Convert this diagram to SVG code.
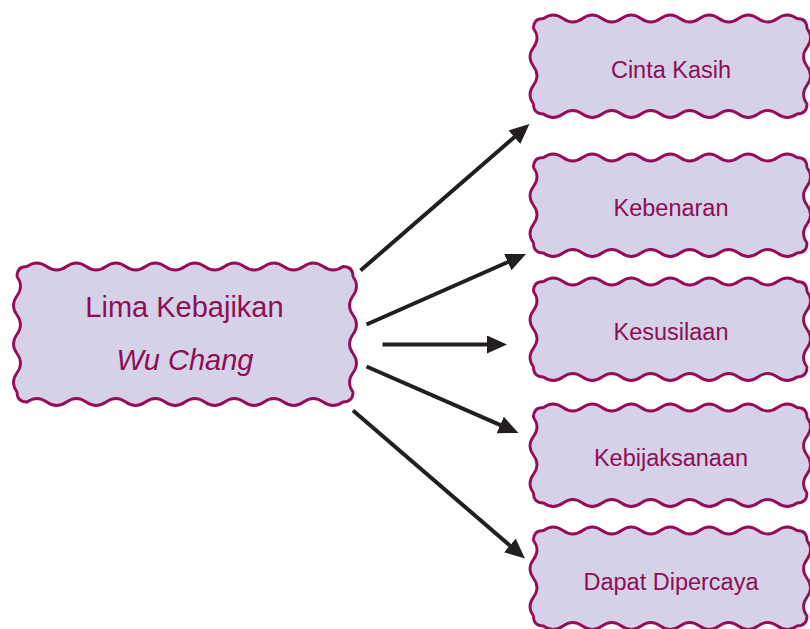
<svg xmlns="http://www.w3.org/2000/svg" xmlns:xlink="http://www.w3.org/1999/xlink" width="810" height="629" viewBox="0 0 810 629">
  <style>
    .box { fill: #d4d1e8; stroke: #970b5b; stroke-width: 2.8; stroke-linejoin: round; }
    .lbl { font-family: "Liberation Sans", Arial, sans-serif; fill: #8e0e55; text-anchor: middle; }
    .big { font-size: 29px; }
    .small { font-size: 23.5px; }
    .arrow { stroke: #231f20; stroke-width: 4; fill: none; marker-end: url(#head); }
  </style>
  <defs>
    <marker id="head" viewBox="0 0 20 18" refX="6" refY="9" markerWidth="20" markerHeight="18" markerUnits="userSpaceOnUse" orient="auto">
      <path d="M0,0 L20,9 L0,18 Z" fill="#231f20"/>
    </marker>
    <path id="rbox" class="box" d="M13.5 3.5 q 9.75 -7 19.5 0 t 19.5 0 t 19.5 0 t 19.5 0 t 19.5 0 t 19.5 0 t 19.5 0 t 19.5 0 t 19.5 0 t 19.5 0 t 19.5 0 t 19.5 0 t 19.5 0 q 10 0 10 10 q 7 9.4375 0 18.875 t 0 18.875 t 0 18.875 t 0 18.875 q 0 10 -10 10 q -9.75 7 -19.5 0 t -19.5 0 t -19.5 0 t -19.5 0 t -19.5 0 t -19.5 0 t -19.5 0 t -19.5 0 t -19.5 0 t -19.5 0 t -19.5 0 t -19.5 0 t -19.5 0 q -10 0 -10 -10 q -7 -9.4375 0 -18.875 t 0 -18.875 t 0 -18.875 t 0 -18.875 q 0 -10 10 -10 Z"/>
  </defs>

  <g id="connectors">
    <path class="arrow" d="M360.5,270.5 L518.9,133.2"/>
    <path class="arrow" d="M366.5,324.5 L513.2,259.7"/>
    <path class="arrow" d="M382.5,344.5 L493,344.5"/>
    <path class="arrow" d="M366.5,366.5 L505.7,427.4"/>
    <path class="arrow" d="M353,410.5 L514.4,549.4"/>
  </g>

  <g id="lima-kebajikan">
    <path class="box" d="M27 266.5 q 9.875 -7 19.75 0 t 19.75 0 t 19.75 0 t 19.75 0 t 19.75 0 t 19.75 0 t 19.75 0 t 19.75 0 t 19.75 0 t 19.75 0 t 19.75 0 t 19.75 0 t 19.75 0 t 19.75 0 t 19.75 0 t 19.75 0 q 10 0 10 10 q 7 9.625 0 19.25 t 0 19.25 t 0 19.25 t 0 19.25 t 0 19.25 t 0 19.25 q 0 10 -10 10 q -9.875 7 -19.75 0 t -19.75 0 t -19.75 0 t -19.75 0 t -19.75 0 t -19.75 0 t -19.75 0 t -19.75 0 t -19.75 0 t -19.75 0 t -19.75 0 t -19.75 0 t -19.75 0 t -19.75 0 t -19.75 0 t -19.75 0 q -10 0 -10 -10 q -7 -9.625 0 -19.25 t 0 -19.25 t 0 -19.25 t 0 -19.25 t 0 -19.25 t 0 -19.25 q 0 -10 10 -10 Z"/>
    <text class="lbl big" x="184.5" y="316.5">Lima Kebajikan</text>
    <text class="lbl big" x="185" y="370" font-style="italic">Wu Chang</text>
  </g>

  <g id="cinta-kasih">
    <use xlink:href="#rbox" href="#rbox" x="530" y="15"/>
    <text class="lbl small" x="671" y="78">Cinta Kasih</text>
  </g>
  <g id="kebenaran">
    <use xlink:href="#rbox" href="#rbox" x="530" y="154"/>
    <text class="lbl small" x="671" y="216">Kebenaran</text>
  </g>
  <g id="kesusilaan">
    <use xlink:href="#rbox" href="#rbox" x="530" y="278"/>
    <text class="lbl small" x="671" y="340">Kesusilaan</text>
  </g>
  <g id="kebijaksanaan">
    <use xlink:href="#rbox" href="#rbox" x="530" y="404"/>
    <text class="lbl small" x="671" y="466">Kebijaksanaan</text>
  </g>
  <g id="dapat-dipercaya">
    <use xlink:href="#rbox" href="#rbox" x="530" y="527"/>
    <text class="lbl small" x="671" y="590">Dapat Dipercaya</text>
  </g>
</svg>
